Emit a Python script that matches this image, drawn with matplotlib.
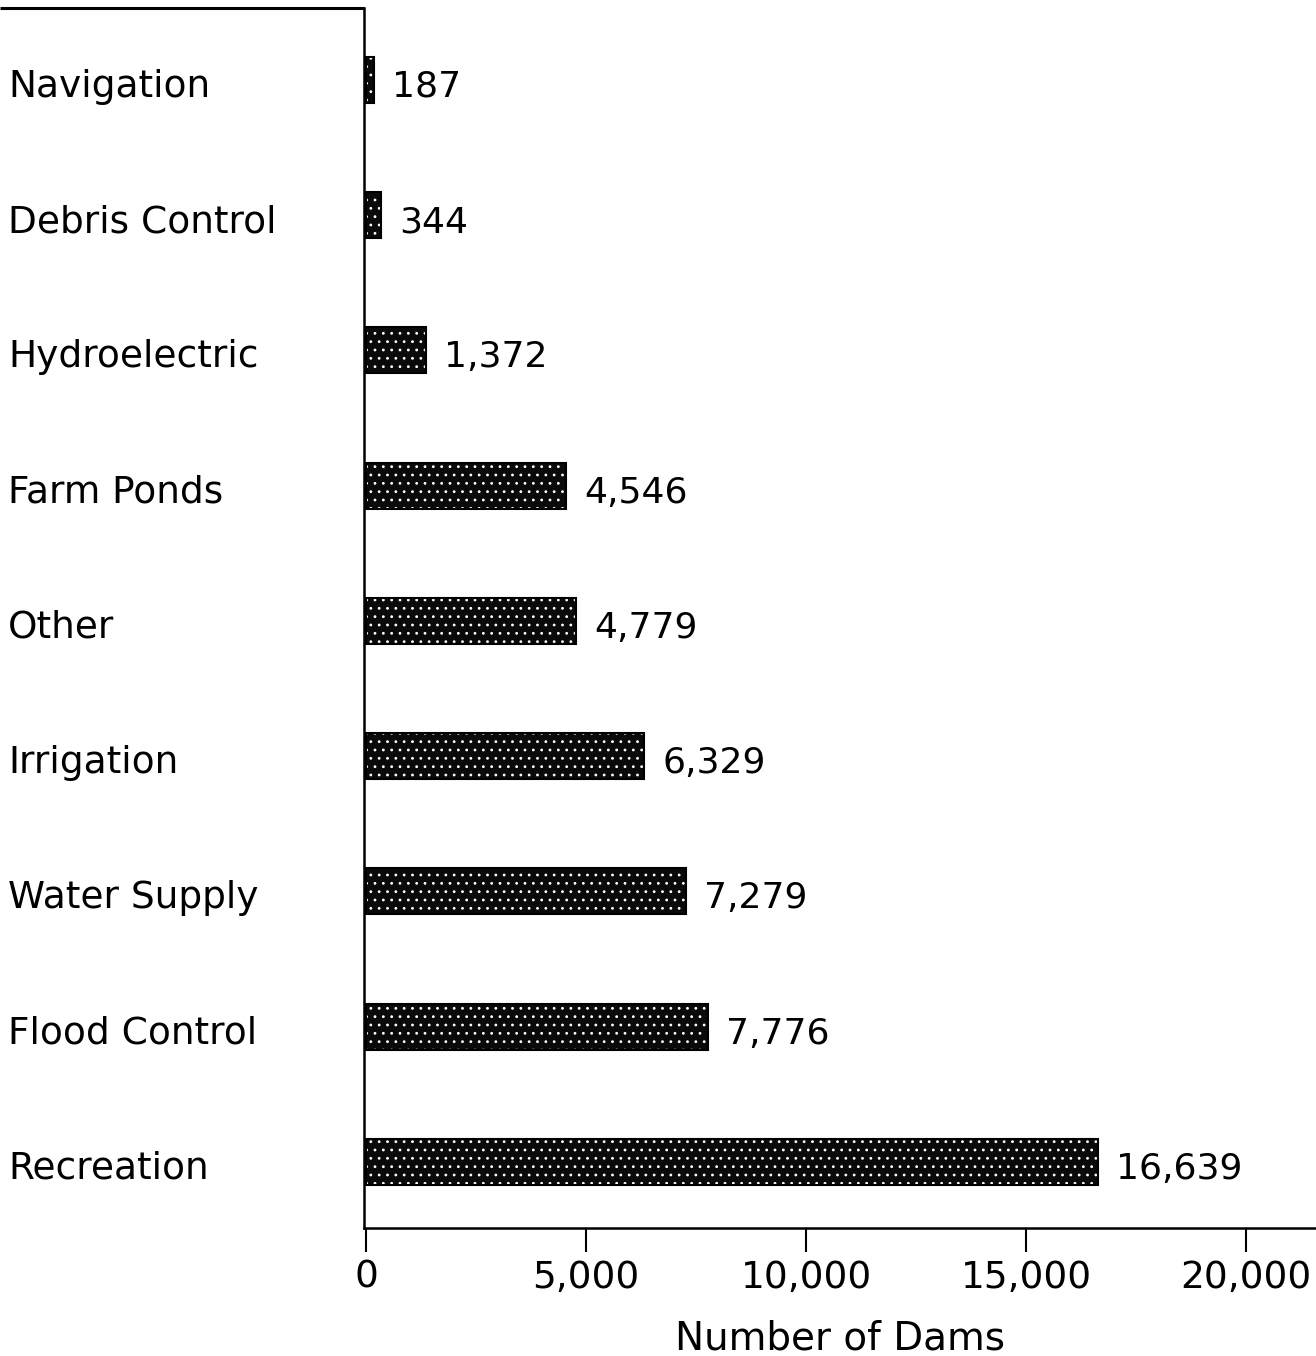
import matplotlib
matplotlib.use('Agg')
import matplotlib.pyplot as plt
from matplotlib.lines import Line2D
from matplotlib.ticker import FuncFormatter
from matplotlib.transforms import blended_transform_factory

# dams by primary purpose, top to bottom
purposes = ['Navigation', 'Debris Control', 'Hydroelectric', 'Farm Ponds', 'Other',
            'Irrigation', 'Water Supply', 'Flood Control', 'Recreation']
dams = [187, 344, 1372, 4546, 4779, 6329, 7279, 7776, 16639]
xticks = [0, 5000, 10000, 15000, 20000]

plt.rcParams['font.family'] = ['DejaVu Sans']
plt.rcParams['hatch.linewidth'] = 0.8

fig = plt.figure(figsize=(13.16, 13.56), dpi=100)
ax = fig.add_axes([0.2766, 0.0944, 0.7234, 0.8997])

n = len(purposes)
ypos = [n - 1 - i for i in range(n)]

# dark speckled bars, then a black outline on top
ax.barh(ypos, dams, height=0.34, color='#0a0a0a', edgecolor='white', hatch='..', linewidth=0)
ax.barh(ypos, dams, height=0.34, fill=False, edgecolor='black', linewidth=1.5)

for y, v in zip(ypos, dams):
  ax.annotate('{:,}'.format(v), xy=(v, y), xytext=(13, -5), textcoords='offset points',
              va='center', ha='left', fontsize=26)

# category names flush with the left edge of the figure
lab_tr = blended_transform_factory(fig.transFigure, ax.transData)
for y, name in zip(ypos, purposes):
  ax.annotate(name, xy=(8 / 1316, y), xycoords=lab_tr, xytext=(0, -5),
              textcoords='offset points', va='center', ha='left', fontsize=27)

ax.set_xlim(-45, 21590)
ax.set_ylim(-0.488, n - 1 + 0.532)

ax.set_xticks(xticks)
ax.xaxis.set_major_formatter(FuncFormatter(lambda v, p: '{:,}'.format(int(v))))
ax.tick_params(axis='x', direction='out', length=17, width=1.5, labelsize=27, pad=6)

ax.set_yticks([])

ax.set_xlabel('Number of Dams', fontsize=28, labelpad=17)

for side in ('top', 'right'):
  ax.spines[side].set_visible(False)
for side in ('left', 'bottom'):
  ax.spines[side].set_linewidth(1.8)

# rule along the top left, joining the vertical axis
fig.add_artist(Line2D([0.0, 0.2766], [0.9941, 0.9941], color='black', linewidth=2.2,
                      solid_capstyle='butt'))

fig.savefig('out.png', dpi=100)
